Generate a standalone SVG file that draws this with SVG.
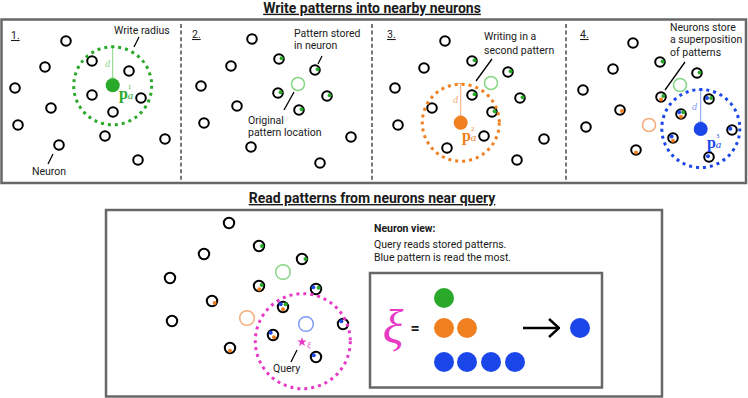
<svg xmlns="http://www.w3.org/2000/svg" width="748" height="398" viewBox="0 0 748 398">
<defs>
<style>
text{font-family:Roboto,"Liberation Sans",sans-serif;fill:#1a1a1a;font-size:10.5px}
.title{font-size:14px;font-weight:bold;text-decoration:underline}
.num{text-decoration:underline}
.bold{font-weight:bold}
.frame{fill:none;stroke:#676767;stroke-width:2.5}
.div{stroke:#777;stroke-width:2;stroke-dasharray:4 2.6}
.n{fill:#fff;stroke:#000;stroke-width:2}
.gd{fill:#2aa82a}.od{fill:#ef7f1f}.bd{fill:#1b47ea}
.ring{fill:none;stroke-width:3;stroke-dasharray:3 4}
.lead{stroke:#000;stroke-width:1.3;fill:none}
.hg{fill:none;stroke:#86d686;stroke-width:1.5}
.ho{fill:none;stroke:#f5ab78;stroke-width:1.5}
.hb{fill:none;stroke:#7f9bf3;stroke-width:1.5}
.pl{font-family:"Liberation Serif",serif;font-size:16px;font-weight:bold}
.sup{font-size:6.5px;font-weight:normal}
.sub{font-size:11px;font-weight:normal;font-style:italic}
.dl{font-family:"Liberation Serif",serif;font-style:italic;font-size:10px}
.xs{font-family:"Liberation Serif",serif;font-style:italic;font-size:9px;fill:#e83ac4}
.xb{font-family:"Liberation Serif",serif;font-style:italic;font-size:48px;fill:#e83ac4}
.eq{font-size:16px;font-weight:bold}
</style>
<marker id="chev" viewBox="0 0 12 20" refX="11" refY="10" markerWidth="12" markerHeight="20" markerUnits="userSpaceOnUse" orient="auto">
<path d="M1 1 L11 10 L1 19" fill="none" stroke="#000" stroke-width="2.4"/>
</marker>
</defs>
<rect width="748" height="398" fill="#fff"/>

<g id="frames">
<rect class="frame" x="1.5" y="19.5" width="744.5" height="163.5"/>
<line class="div" x1="181" y1="24" x2="181" y2="180"/>
<line class="div" x1="372" y1="24" x2="372" y2="180"/>
<line class="div" x1="566" y1="24" x2="566" y2="180"/>
<rect class="frame" x="106" y="210" width="556" height="186.5"/>
<rect class="frame" x="370" y="273" width="232" height="114.5"/>
</g>

<g id="titles">
<text class="title" x="372" y="12.7" text-anchor="middle">Write patterns into nearby neurons</text>
<text class="title" x="372" y="203" text-anchor="middle">Read patterns from neurons near query</text>
<text class="num" x="11" y="39">1.</text>
<text class="num" x="192" y="38">2.</text>
<text class="num" x="387" y="38">3.</text>
<text class="num" x="580" y="38">4.</text>
</g>

<g id="connectors">
<line class="lead" x1="139" y1="37" x2="134" y2="47"/>
<line class="lead" x1="53" y1="154" x2="48" y2="164"/>
<line class="lead" x1="322" y1="56" x2="318" y2="64"/>
<line class="lead" x1="294" y1="92" x2="284" y2="110"/>
<line class="lead" x1="492" y1="59" x2="476" y2="81"/>
<line class="lead" x1="685" y1="62" x2="665" y2="90"/>
<line class="lead" x1="297" y1="350" x2="291" y2="362"/>
<path d="M112.7 47 V78 M110.2 47 H115.2 M110.2 78 H115.2" stroke="#86d686" stroke-width="1" fill="none"/>
<path d="M460.7 83.5 V116 M458.2 83.5 H463.2 M458.2 116 H463.2" stroke="#f5ab78" stroke-width="1" fill="none"/>
<path d="M700.7 90 V122 M698.2 90 H703.2 M698.2 122 H703.2" stroke="#7f9bf3" stroke-width="1" fill="none"/>
<line x1="523" y1="328" x2="559" y2="328" stroke="#000" stroke-width="2.4" marker-end="url(#chev)"/>
</g>

<g id="panel1">
<g id="p1-n1"><circle class="n" cx="66" cy="41" r="4.8"/></g>
<g id="p1-n2"><circle class="n" cx="45" cy="67" r="4.8"/></g>
<g id="p1-n3"><circle class="n" cx="15" cy="88" r="4.8"/></g>
<g id="p1-n4"><circle class="n" cx="51" cy="108" r="4.8"/></g>
<g id="p1-n5"><circle class="n" cx="18" cy="125" r="4.8"/></g>
<g id="p1-n6"><circle class="n" cx="59" cy="145" r="4.8"/></g>
<g id="p1-n7"><circle class="n" cx="92" cy="61" r="4.8"/></g>
<g id="p1-n8"><circle class="n" cx="129" cy="71" r="4.8"/></g>
<g id="p1-n9"><circle class="n" cx="92" cy="95" r="4.8"/></g>
<g id="p1-n10"><circle class="n" cx="113" cy="112" r="4.8"/></g>
<g id="p1-n11"><circle class="n" cx="141" cy="98" r="4.8"/></g>
<g id="p1-n12"><circle class="n" cx="105" cy="136" r="4.8"/></g>
<g id="p1-n13"><circle class="n" cx="165" cy="139" r="4.8"/></g>
<g id="p1-n14"><circle class="n" cx="138" cy="160" r="4.8"/></g>
<g id="p1-write"><circle class="ring" cx="112.7" cy="85.8" r="39" stroke="#2aa82a"/><circle class="gd" cx="112.7" cy="85.3" r="7"/></g>
<text class="dl" x="105" y="67" style="fill:#86d686">d</text>
<text class="pl" x="119" y="99" style="fill:#2aa82a">p<tspan class="sup" dy="-10">1</tspan><tspan class="sub" dx="-3.3" dy="10">a</tspan></text>
<text x="114" y="34">Write radius</text>
<text x="32" y="175">Neuron</text>
</g>

<g id="panel2">
<g id="p2-n1"><circle class="n" cx="252" cy="39" r="4.8"/></g>
<g id="p2-n2"><circle class="n" cx="231" cy="66" r="4.8"/></g>
<g id="p2-n3"><circle class="n" cx="201" cy="86" r="4.8"/></g>
<g id="p2-n4"><circle class="n" cx="237" cy="106" r="4.8"/></g>
<g id="p2-n5"><circle class="n" cx="204" cy="123" r="4.8"/></g>
<g id="p2-n6"><circle class="n" cx="251" cy="147" r="4.8"/></g>
<g id="p2-n7"><circle class="n" cx="279" cy="59" r="4.8"/><circle class="gd" cx="281.6" cy="58.3" r="2"/></g>
<g id="p2-n8"><circle class="n" cx="315" cy="70" r="4.8"/><circle class="gd" cx="317.6" cy="69.3" r="2"/></g>
<g id="p2-n9"><circle class="n" cx="278" cy="93" r="4.8"/><circle class="gd" cx="280.6" cy="92.3" r="2"/></g>
<g id="p2-n10"><circle class="n" cx="299" cy="110" r="4.8"/><circle class="gd" cx="301.6" cy="109.3" r="2"/></g>
<g id="p2-n11"><circle class="n" cx="327" cy="96" r="4.8"/><circle class="gd" cx="329.6" cy="95.3" r="2"/></g>
<g id="p2-n12"><circle class="n" cx="351" cy="137" r="4.8"/></g>
<g id="p2-n13"><circle class="n" cx="320" cy="163" r="4.8"/></g>
<g id="p2-orig"><circle class="hg" cx="298" cy="84" r="6.5"/></g>
<text x="294" y="36.5">Pattern stored</text>
<text x="294" y="48.5">in neuron</text>
<text x="248" y="123.5">Original</text>
<text x="248" y="135.5">pattern location</text>
</g>

<g id="panel3">
<g id="p3-n1"><circle class="n" cx="445" cy="41" r="4.8"/></g>
<g id="p3-n2"><circle class="n" cx="424" cy="68" r="4.8"/></g>
<g id="p3-n3"><circle class="n" cx="395" cy="88" r="4.8"/></g>
<g id="p3-n4"><circle class="n" cx="398" cy="125" r="4.8"/></g>
<g id="p3-n5"><circle class="n" cx="447" cy="148" r="4.8"/></g>
<g id="p3-n6"><circle class="n" cx="472" cy="61" r="4.8"/><circle class="gd" cx="474.6" cy="60.3" r="2"/></g>
<g id="p3-n7"><circle class="n" cx="508" cy="72" r="4.8"/><circle class="gd" cx="510.6" cy="71.3" r="2"/></g>
<g id="p3-n8"><circle class="n" cx="472" cy="95" r="4.8"/><circle class="gd" cx="474.6" cy="94.3" r="2"/></g>
<g id="p3-n9"><circle class="n" cx="520" cy="98" r="4.8"/><circle class="gd" cx="522.6" cy="97.3" r="2"/></g>
<g id="p3-n10"><circle class="n" cx="492" cy="112" r="4.8"/><circle class="gd" cx="494.6" cy="111.3" r="2"/></g>
<g id="p3-n11"><circle class="n" cx="484" cy="136" r="4.8"/></g>
<g id="p3-n12"><circle class="n" cx="432" cy="108" r="4.8"/></g>
<g id="p3-n13"><circle class="n" cx="544" cy="139" r="4.8"/></g>
<g id="p3-n14"><circle class="n" cx="517" cy="160" r="4.8"/></g>
<g id="p3-orig"><circle class="hg" cx="491" cy="83" r="6.5"/></g>
<g id="p3-write"><circle class="ring" cx="460.8" cy="122.7" r="38.5" stroke="#ef7f1f"/><circle class="od" cx="460.7" cy="122.7" r="7"/></g>
<text class="dl" x="453" y="103" style="fill:#f5ab78">d</text>
<text class="pl" x="462" y="141" style="fill:#ef7f1f">p<tspan class="sup" dy="-10">2</tspan><tspan class="sub" dx="-3.3" dy="10">a</tspan></text>
<text x="484" y="40">Writing in a</text>
<text x="484" y="53.5">second pattern</text>
</g>

<g id="panel4">
<g id="p4-n1"><circle class="n" cx="633" cy="43" r="4.8"/></g>
<g id="p4-n2"><circle class="n" cx="613" cy="69" r="4.8"/></g>
<g id="p4-n3"><circle class="n" cx="583" cy="90" r="4.8"/></g>
<g id="p4-n4"><circle class="n" cx="586" cy="127" r="4.8"/></g>
<g id="p4-n5"><circle class="n" cx="636" cy="150" r="4.8"/><circle class="od" cx="636" cy="152.6" r="2"/></g>
<g id="p4-n6"><circle class="n" cx="620" cy="110" r="4.8"/><circle class="od" cx="622" cy="111" r="2"/></g>
<g id="p4-n7"><circle class="n" cx="660" cy="62" r="4.8"/><circle class="gd" cx="662.6" cy="61.5" r="2"/></g>
<g id="p4-n8"><circle class="n" cx="697" cy="73" r="4.8"/><circle class="gd" cx="699.6" cy="72.5" r="2"/></g>
<g id="p4-n9"><circle class="n" cx="661" cy="97" r="4.8"/><circle class="gd" cx="663.4" cy="96" r="2"/><circle class="od" cx="661" cy="99.6" r="2"/></g>
<g id="p4-n10"><circle class="n" cx="709" cy="99" r="4.8"/><circle class="bd" cx="707" cy="98" r="2"/><circle class="gd" cx="711.2" cy="98" r="2"/></g>
<g id="p4-n11"><circle class="n" cx="681" cy="114" r="4.8"/><circle class="bd" cx="679.2" cy="112.3" r="2"/><circle class="gd" cx="683.3" cy="112.3" r="2"/><circle class="od" cx="681" cy="116.7" r="2"/></g>
<g id="p4-n12"><circle class="n" cx="673" cy="138" r="4.8"/><circle class="bd" cx="671.6" cy="136.6" r="2"/><circle class="od" cx="673" cy="140.7" r="2"/></g>
<g id="p4-n13"><circle class="n" cx="732" cy="130" r="4.8"/><circle class="bd" cx="730.3" cy="128.7" r="2"/></g>
<g id="p4-n14"><circle class="n" cx="709" cy="157" r="4.8"/><circle class="bd" cx="708" cy="156.3" r="2"/></g>
<g id="p4-orig1"><circle class="hg" cx="680" cy="85" r="6.5"/></g>
<g id="p4-orig2"><circle class="ho" cx="649" cy="125" r="6.5"/></g>
<g id="p4-write"><circle class="ring" cx="700.8" cy="128.5" r="39" stroke="#1b47ea"/><circle class="bd" cx="700.7" cy="129" r="7"/></g>
<text class="dl" x="692" y="110" style="fill:#7f9bf3">d</text>
<text class="pl" x="707" y="148" style="fill:#1b47ea">p<tspan class="sup" dy="-10">3</tspan><tspan class="sub" dx="-3.3" dy="10">a</tspan></text>
<text x="670" y="30.5">Neurons store</text>
<text x="670" y="43">a superposition</text>
<text x="670" y="55.5">of patterns</text>
</g>

<g id="read">
<g id="r-n1"><circle class="n" cx="229" cy="223" r="5.2"/></g>
<g id="r-n2"><circle class="n" cx="204" cy="254" r="5.2"/></g>
<g id="r-n3"><circle class="n" cx="170" cy="278" r="5.2"/></g>
<g id="r-n4"><circle class="n" cx="212" cy="301" r="5.2"/><circle class="od" cx="214.6" cy="303" r="2"/></g>
<g id="r-n5"><circle class="n" cx="172" cy="321" r="5.2"/></g>
<g id="r-n6"><circle class="n" cx="230" cy="348" r="5.2"/><circle class="od" cx="230" cy="350.7" r="2"/></g>
<g id="r-n7"><circle class="n" cx="259" cy="246" r="5.2"/><circle class="gd" cx="262" cy="246" r="2"/></g>
<g id="r-n8"><circle class="n" cx="302" cy="259" r="5.2"/><circle class="gd" cx="305.5" cy="259" r="2"/></g>
<g id="r-n9"><circle class="n" cx="259" cy="286" r="5.2"/><circle class="gd" cx="261.7" cy="285" r="2"/><circle class="od" cx="259.3" cy="289.3" r="2"/></g>
<g id="r-n10"><circle class="n" cx="316" cy="289" r="5.2"/><circle class="bd" cx="313.3" cy="287.3" r="2"/><circle class="gd" cx="318.7" cy="287.7" r="2"/></g>
<g id="r-n11"><circle class="n" cx="283" cy="307" r="5.2"/><circle class="bd" cx="280.7" cy="304.3" r="2"/><circle class="gd" cx="285.7" cy="304.3" r="2"/><circle class="od" cx="283" cy="309.2" r="2"/></g>
<g id="r-n12"><circle class="n" cx="273" cy="335" r="5.2"/><circle class="bd" cx="270.7" cy="332.7" r="2"/><circle class="od" cx="274" cy="337.3" r="2"/></g>
<g id="r-n13"><circle class="n" cx="343" cy="324" r="5.2"/><circle class="bd" cx="341.3" cy="321.3" r="2"/></g>
<g id="r-n14"><circle class="n" cx="316" cy="357" r="5.2"/><circle class="bd" cx="313.7" cy="355.3" r="2"/></g>
<g id="r-orig1"><circle class="hg" cx="283" cy="272" r="7.3"/></g>
<g id="r-orig2"><circle class="ho" cx="247" cy="318" r="7.3"/></g>
<g id="r-orig3"><circle class="hb" cx="306" cy="324" r="7.3"/></g>
<g id="r-query"><circle class="ring" cx="302.8" cy="341.2" r="47.5" stroke="#e83ac4"/>
<path d="M302 337 L303.2 340.4 L306.8 340.5 L303.9 342.6 L305 346 L302 344 L299 346 L300.1 342.6 L297.2 340.5 L300.8 340.4 Z" fill="#e83ac4"/></g>
<text class="xs" x="307" y="348">ξ</text>
<text x="273" y="372">Query</text>
</g>

<g id="neuron-view">
<text class="bold" x="374" y="232">Neuron view:</text>
<text x="374" y="248">Query reads stored patterns.</text>
<text x="374" y="261">Blue pattern is read the most.</text>
<text class="xb" x="393" y="343" text-anchor="middle">ξ</text>
<text class="eq" x="415" y="333.5" text-anchor="middle">=</text>
<circle class="gd" cx="444" cy="298" r="10"/>
<circle class="od" cx="444" cy="328" r="10"/>
<circle class="od" cx="467" cy="328" r="10"/>
<circle class="bd" cx="444" cy="362" r="10"/>
<circle class="bd" cx="467" cy="362" r="10"/>
<circle class="bd" cx="491" cy="362" r="10"/>
<circle class="bd" cx="515" cy="362" r="10"/>
<circle class="bd" cx="580" cy="328" r="10"/>
</g>
</svg>
